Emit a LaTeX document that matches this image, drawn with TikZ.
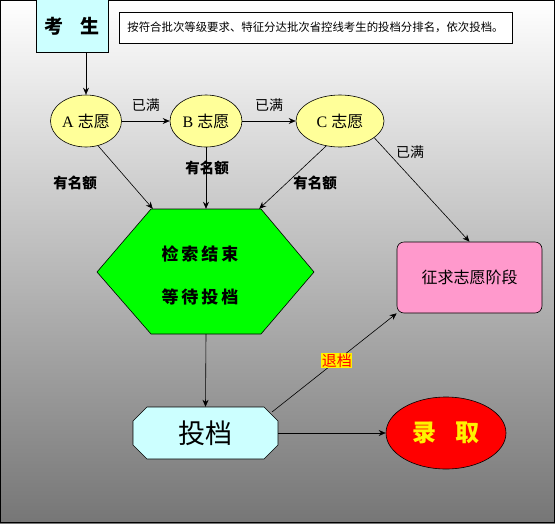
\documentclass[tikz,border=0pt]{standalone}
\usepackage{fontspec}
\setmainfont{Liberation Serif}
\newfontfamily\cjk{Noto Sans CJK SC}
\usetikzlibrary{arrows.meta,shapes.geometric,shapes.misc}
\definecolor{bggray}{RGB}{118,118,118}
\definecolor{lcyan}{RGB}{204,255,255}
\definecolor{lyellow}{RGB}{255,255,153}
\definecolor{pinkbox}{RGB}{255,153,204}
\definecolor{hexgreen}{RGB}{0,255,0}
\tikzset{
  arr/.style={-{Stealth[length=7pt,width=6pt]}, line width=0.6pt},
  vol/.style={ellipse, draw, line width=0.6pt, fill=lyellow, inner sep=0pt, font=\fontsize{16}{18}\selectfont},
  lbl/.style={font=\cjk\fontsize{14}{16}\selectfont, inner sep=0pt},
  blbl/.style={font=\cjk\bfseries\fontsize{14.5}{16}\selectfont, inner sep=0pt},
  hextxt/.style={font=\cjk\bfseries\fontsize{17}{19}\selectfont, inner sep=0pt},
}
\begin{document}
\begin{tikzpicture}[x=1pt,y=-1pt]
\useasboundingbox (0,0) rectangle (555,523);
\shade[top color=white, bottom color=bggray] (0,0) rectangle (555,523);
\draw[line width=1pt] (0.5,0.5) rectangle (554.5,522.5);

% top boxes
\node[draw, line width=0.6pt, fill=lcyan, minimum width=72pt, minimum height=53pt, inner sep=0pt,
      font=\cjk\bfseries\fontsize{19}{21}\selectfont] (ks) at (72,26) {考\hspace{0.9em}生};
\node[draw, line width=0.6pt, fill=white, minimum width=393pt, minimum height=31pt, inner sep=0pt,
      font=\cjk\fontsize{11.4}{13}\selectfont] (desc) at (315.5,27.5) {按符合批次等级要求、特征分达批次省控线考生的投档分排名，依次投档。};

% volunteer ellipses
\node[vol, minimum width=71pt, minimum height=52pt] (A) at (86,121) {A {\cjk 志愿}};
\node[vol, minimum width=72pt, minimum height=52pt] (B) at (206,121) {B {\cjk 志愿}};
\node[vol, minimum width=88pt, minimum height=52pt] (C) at (340,121) {C {\cjk 志愿}};

% hexagon
\draw[line width=0.6pt, fill=hexgreen] (151,209) -- (261,209) -- (314,272) -- (261,334) -- (151,334) -- (97,272) -- cycle;
\node[minimum width=106pt, minimum height=125pt, inner sep=0pt] (hex) at (206,271.5) {};
\node[hextxt] (h1) at (200,254) {检\hspace{3pt}索\hspace{3pt}结\hspace{3pt}束};
\node[hextxt] (h2) at (200,297) {等\hspace{3pt}待\hspace{3pt}投\hspace{3pt}档};

% pink box
\node[draw, line width=0.6pt, fill=pinkbox, rounded corners=7pt, minimum width=145pt, minimum height=71pt, inner sep=0pt,
      font=\cjk\fontsize{16}{18}\selectfont] (zq) at (469.5,277.5) {征求志愿阶段};

% toudang (octagon)
\draw[line width=0.6pt, fill=lcyan] (147,407) -- (264,407) -- (278,421) -- (278,445) -- (264,459) -- (147,459) -- (133,445) -- (133,421) -- cycle;
\node[minimum width=145pt, minimum height=52pt, inner sep=0pt,
      font=\cjk\fontsize{27}{29}\selectfont] (td) at (205.5,433) {投档};
\coordinate (tdne) at (272,412);

% luqu
\node[ellipse, draw, line width=0.6pt, fill=red, minimum width=120pt, minimum height=72pt, inner sep=0pt,
      text=yellow, font=\cjk\bfseries\fontsize{24}{26}\selectfont] (lq) at (446,433) {录\hspace{0.8em}取};

% connectors
\draw[arr] (ks.south -| 86,0) -- (A.north);
\draw[arr] (A) -- node[lbl, above=9pt] (l1) {已满} (B);
\draw[arr] (B) -- node[lbl, above=9pt] (l2) {已满} (C);
\draw[arr] (A.-64) -- (hex.north west);
\draw[arr] (B) -- (hex.north);
\draw[arr] (C.-119) -- (hex.north east);
\draw[arr] (C.-26) -- (zq.north);
\node[lbl] (l3) at (410,152) {已满};
\node[blbl] (y1) at (75,183) {有名额};
\node[blbl] (y2) at (207,168) {有名额};
\node[blbl] (y3) at (315,183) {有名额};
\draw[arr] (hex.south) -- (td.north);
\draw[arr] (td.east) -- (lq);
\draw[arr] (tdne) -- node[pos=0.52, fill=yellow, text=red, inner sep=0.5pt, font=\cjk\fontsize{15}{17}\selectfont] (tdl) {退档} (zq.south west);
\end{tikzpicture}
\end{document}
